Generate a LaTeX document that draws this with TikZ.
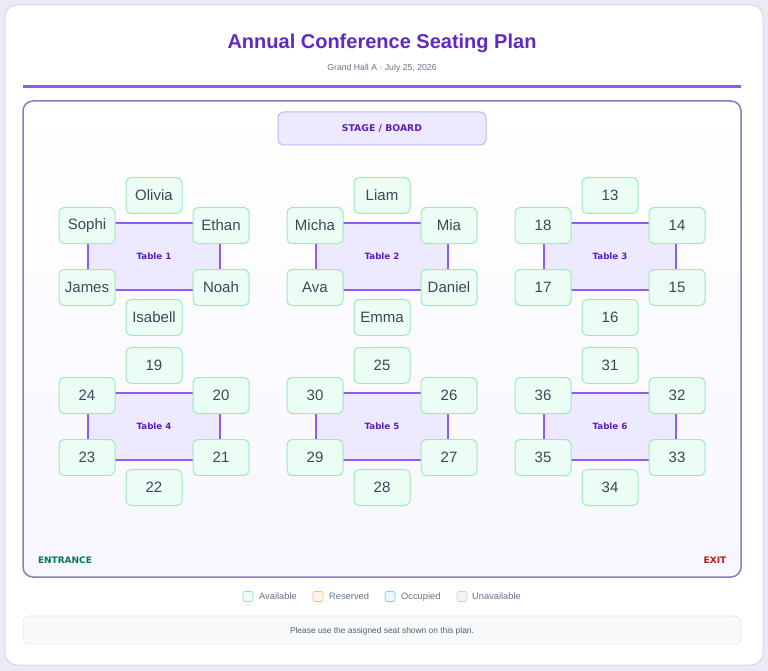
\documentclass[tikz,border=0pt]{standalone}
\usepackage{fontspec}
\setmainfont{Liberation Sans}
\newfontfamily\heavyfont{DejaVu Sans}
\usetikzlibrary{calc}
\definecolor{pagebg}{HTML}{ECEAF5}
\definecolor{cardborder}{HTML}{DCD8E8}
\definecolor{titlec}{HTML}{6128C4}
\definecolor{subc}{HTML}{64748B}
\definecolor{rulec}{HTML}{8B5CF6}
\definecolor{hallborder}{HTML}{8E7CB8}
\definecolor{hallbot}{HTML}{F8F6FF}
\definecolor{stagefill}{HTML}{EDE9FE}
\definecolor{stageborder}{HTML}{C4B5FD}
\definecolor{labelc}{HTML}{5B21B6}
\definecolor{tablefill}{HTML}{EDE9FE}
\definecolor{tableborder}{HTML}{8B5CF6}
\definecolor{seatfill}{HTML}{ECFDF5}
\definecolor{seatborder}{HTML}{98EDB8}
\definecolor{seattext}{HTML}{3E4756}
\definecolor{entc}{HTML}{047857}
\definecolor{exitc}{HTML}{B91C1C}
\definecolor{avfill}{HTML}{ECFDF5}
\definecolor{avborder}{HTML}{86EFAC}
\definecolor{resfill}{HTML}{FFF7ED}
\definecolor{resborder}{HTML}{FDBA74}
\definecolor{occfill}{HTML}{EFF6FF}
\definecolor{occborder}{HTML}{93C5FD}
\definecolor{unfill}{HTML}{F1F5F9}
\definecolor{unborder}{HTML}{CBD5E1}
\definecolor{footfill}{HTML}{F8FAFC}
\definecolor{footborder}{HTML}{E2E8F0}
\definecolor{foottext}{HTML}{516073}
\tikzset{
  tablebox/.style={draw=tableborder, line width=1.5pt, fill=tablefill,
    minimum width=132pt, minimum height=67pt, inner sep=0pt,
    text=labelc, font=\heavyfont\bfseries\fontsize{8.7}{10}\selectfont},
  seat/.style={draw=seatborder, line width=1pt, fill=seatfill, rounded corners=5pt,
    minimum width=56pt, minimum height=36pt, inner sep=0pt,
    text=seattext, font=\fontsize{15}{18}\selectfont},
  legbox/.style={draw=#1border, fill=#1fill, line width=0.8pt, rounded corners=2pt,
    minimum width=10pt, minimum height=10pt, inner sep=0pt},
  legtext/.style={text=subc, anchor=base west, inner sep=0pt, font=\fontsize{9.3}{11}\selectfont},
  heavylabel/.style={inner sep=0pt, font=\heavyfont\bfseries\fontsize{9}{11}\selectfont}
}
\begin{document}
\begin{tikzpicture}[x=1pt,y=-1pt]
\useasboundingbox (0,0) rectangle (768,671);
\fill[pagebg] (0,0) rectangle (768,671);
\draw[cardborder, fill=white, rounded corners=12pt, line width=1pt] (5,5) rectangle (763,665);
% header
\node[text=titlec, inner sep=0pt, anchor=base, font=\bfseries\fontsize{20}{24}\selectfont] (title) at (382,48.5) {Annual Conference Seating Plan};
\node[text=subc, inner sep=0pt, anchor=base, font=\fontsize{8.7}{10}\selectfont] (subtitle) at (382,71) {Grand Hall A · July 25, 2026};
\draw[rulec, line width=3pt] (23,87) -- (741,87);
% hall
\path[draw=hallborder, line width=1.5pt, rounded corners=10pt, top color=white, bottom color=hallbot] (23,101) rectangle (741,577);
\node[draw=stageborder, fill=stagefill, line width=1pt, rounded corners=6pt, minimum width=208pt, minimum height=33pt,
  text=labelc, font=\heavyfont\bfseries\fontsize{9.3}{11}\selectfont] (stage) at (382,128.5) {STAGE / BOARD};
% tables
\foreach \n/\cx/\cy/\sa/\sb/\sc/\sd/\se/\sf in {
  1/154/256.5/Olivia/Ethan/Noah/Isabell/James/Sophi,
  2/382/256.5/Liam/Mia/Daniel/Emma/Ava/Micha,
  3/610/256.5/13/14/15/16/17/18,
  4/154/426.5/19/20/21/22/23/24,
  5/382/426.5/25/26/27/28/29/30,
  6/610/426.5/31/32/33/34/35/36}{
  \node[tablebox] (t\n) at (\cx,\cy) {Table \n};
  \node[seat] (t\n-1) at ($(t\n)+(0,-61)$) {\sa};
  \node[seat] (t\n-2) at ($(t\n)+(67,-31)$) {\sb};
  \node[seat] (t\n-3) at ($(t\n)+(67,31)$) {\sc};
  \node[seat] (t\n-4) at ($(t\n)+(0,61)$) {\sd};
  \node[seat] (t\n-5) at ($(t\n)+(-67,31)$) {\se};
  \node[seat] (t\n-6) at ($(t\n)+(-67,-31)$) {\sf};
}
% entrance / exit
\node[heavylabel, text=entc] (entrance) at (65,560) {ENTRANCE};
\node[heavylabel, text=exitc] (exit) at (715,560) {EXIT};
% legend
\node[legbox=av] (lg1) at (248,596.5) {};
\node[legtext] (lt1) at (259,599.2) {Available};
\node[legbox=res] (lg2) at (318,596.5) {};
\node[legtext] (lt2) at (329,599.2) {Reserved};
\node[legbox=occ] (lg3) at (390,596.5) {};
\node[legtext] (lt3) at (401,599.2) {Occupied};
\node[legbox=un] (lg4) at (462,596.5) {};
\node[legtext] (lt4) at (472,599.2) {Unavailable};
% footer
\draw[footborder, fill=footfill, line width=0.8pt, rounded corners=6pt] (23,616) rectangle (741,644);
\node[text=foottext, inner sep=0pt, anchor=base, font=\fontsize{8.4}{10}\selectfont] (foot) at (382,633) {Please use the assigned seat shown on this plan.};
\end{tikzpicture}
\end{document}
